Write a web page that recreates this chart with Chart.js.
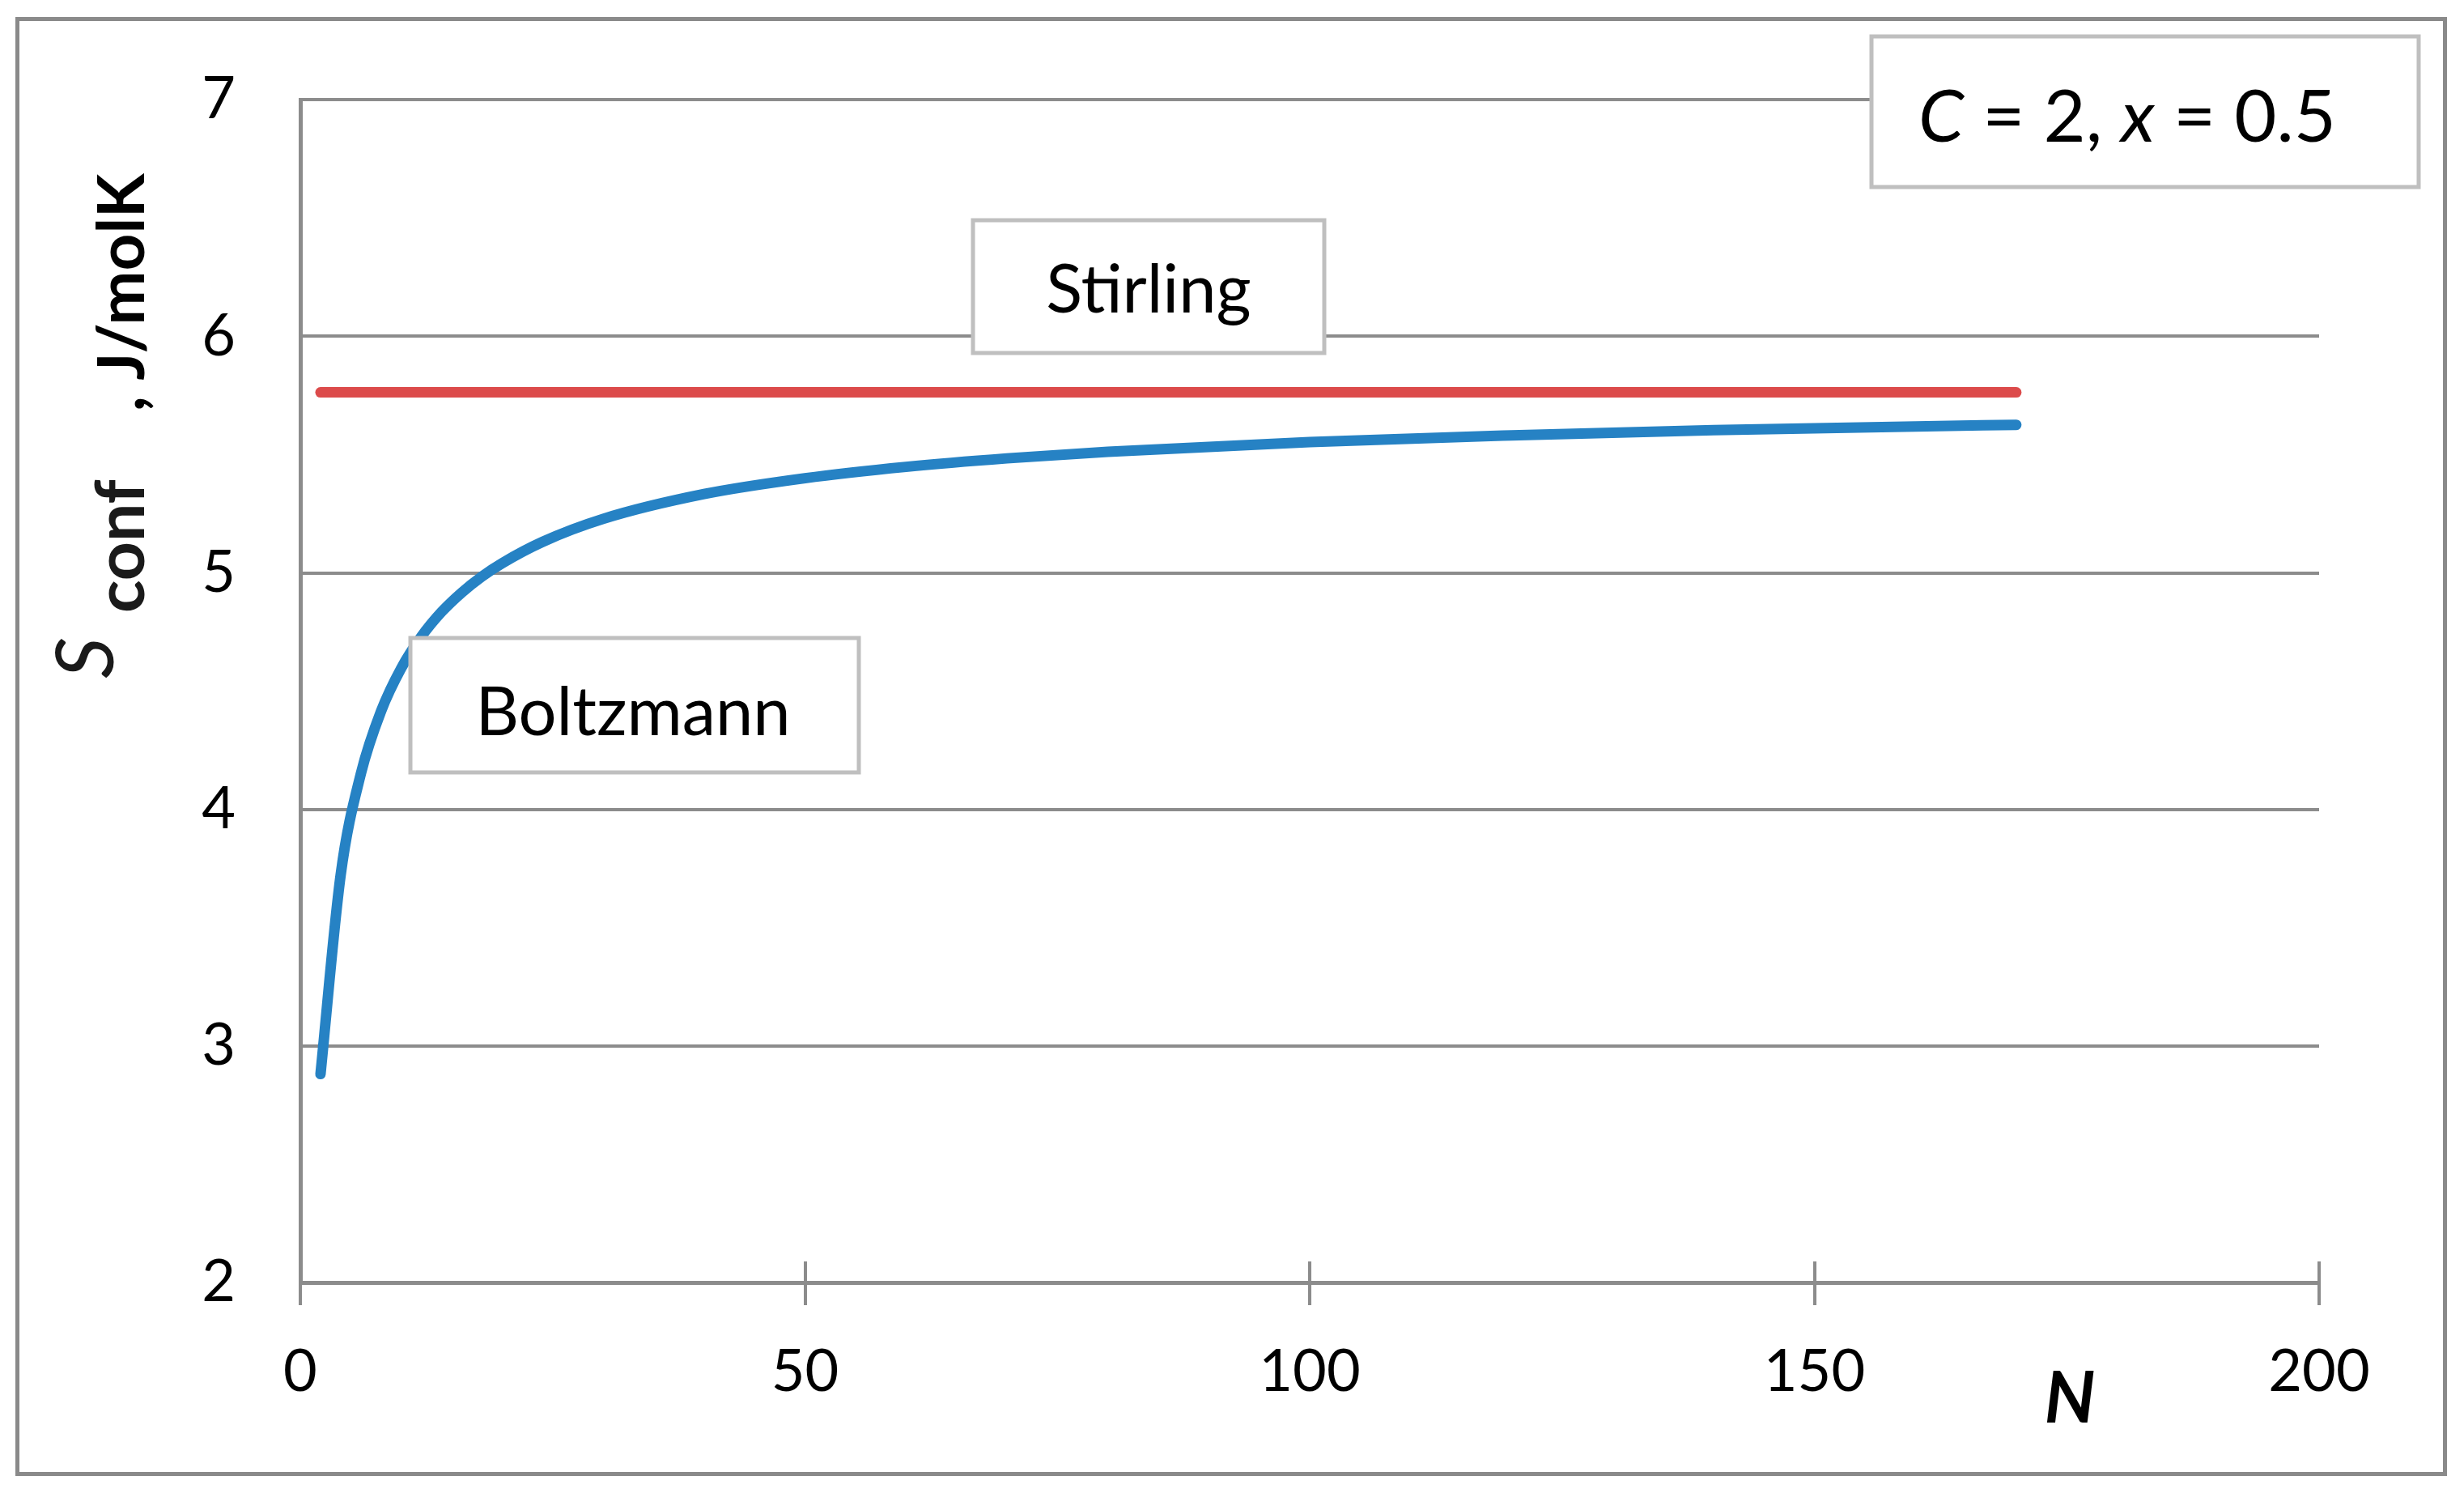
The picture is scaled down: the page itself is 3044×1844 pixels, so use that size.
<!DOCTYPE html>
<html>
<head>
<meta charset="utf-8">
<script src="https://cdn.jsdelivr.net/npm/chart.js@4"></script>
<style>
  html, body { margin: 0; padding: 0; background: #ffffff; }
  #wrap { position: relative; width: 3044px; height: 1844px; }
</style>
</head>
<body>
<div id="wrap"><canvas id="c"></canvas></div>
<script>
// ---- data ----
const boltzmannN = [2, 4, 6, 8, 10, 12, 14, 16, 18, 20, 24, 30, 40, 50, 60, 70, 80, 100, 120, 140, 160, 170];
const boltzmannS = [2.881, 3.724, 4.151, 4.415, 4.597, 4.731, 4.835, 4.917, 4.985, 5.041, 5.131, 5.228, 5.333, 5.400, 5.448, 5.484, 5.512, 5.553, 5.581, 5.603, 5.619, 5.626];
const stirlingN = [2, 170];
const stirlingS = [5.763, 5.763];
const xTicks = [0, 50, 100, 150, 200];
const yTicks = [2, 3, 4, 5, 6, 7];
const labelStirling = 'Stirling';
const labelBoltzmann = 'Boltzmann';
const paramParts = [['C', true], [' = 2, ', false], ['x', true], [' = 0.5', false]];
const xTitle = 'N';
const yTitleMain = 'S';
const yTitleSub = 'conf';
const yTitleUnit = ', J/molK';

const FONT = 'Lato, "Open Sans", "DejaVu Sans", sans-serif';
const GRID = '#8c8c8c';

const toPts = (xs, ys) => xs.map((x, i) => ({ x: x, y: ys[i] }));

const decor = {
  id: 'decor',
  beforeDraw(chart) {
    const ctx = chart.ctx;
    ctx.save();
    ctx.fillStyle = '#ffffff';
    ctx.fillRect(0, 0, chart.width, chart.height);
    ctx.strokeStyle = '#8a8a8a';
    ctx.lineWidth = 5;
    ctx.strokeRect(21.5, 23.5, 2999, 1797);
    ctx.restore();
  },
  afterDraw(chart) {
    const ctx = chart.ctx;
    const xs = chart.scales.x, ys = chart.scales.y;
    ctx.save();
    // inner halves of x tick marks
    ctx.strokeStyle = GRID;
    ctx.lineWidth = 4;
    xTicks.forEach(v => {
      const px = Math.round(xs.getPixelForValue(v));
      ctx.beginPath();
      ctx.moveTo(px, ys.bottom);
      ctx.lineTo(px, ys.bottom - 26);
      ctx.stroke();
    });
    // boxes
    const box = (x0, y0, x1, y1) => {
      ctx.fillStyle = '#ffffff';
      ctx.fillRect(x0, y0, x1 - x0, y1 - y0);
      ctx.strokeStyle = '#bfbfbf';
      ctx.lineWidth = 5;
      ctx.strokeRect(x0, y0, x1 - x0, y1 - y0);
    };
    box(1202, 272, 1636, 436);
    ctx.fillStyle = '#000';
    ctx.font = '83px ' + FONT;
    ctx.textAlign = 'center';
    ctx.textBaseline = 'alphabetic';
    ctx.fillText(labelStirling, 1419, 386);

    box(507, 788, 1061, 954);
    ctx.fillStyle = '#000';
    ctx.font = '83px ' + FONT;
    ctx.textAlign = 'center';
    ctx.fillText(labelBoltzmann, 782, 908);

    box(2312, 45, 2988, 231);
    ctx.textAlign = 'left';
    let x = 2370;
    paramParts.forEach(([t, it]) => {
      ctx.font = (it ? 'italic ' : '') + '90px ' + FONT;
      ctx.fillStyle = '#000';
      ctx.fillText(t, x, 175);
      x += ctx.measureText(t).width;
    });

    // x title
    ctx.font = 'italic bold 88px ' + FONT;
    ctx.textAlign = 'center';
    ctx.fillText(xTitle, 2557, 1757);

    // y title (rotated)
    const rot = (text, font, bx, by, color) => {
      ctx.save();
      ctx.translate(bx, by);
      ctx.rotate(-Math.PI / 2);
      ctx.font = font;
      ctx.fillStyle = color;
      ctx.textAlign = 'left';
      ctx.textBaseline = 'alphabetic';
      ctx.fillText(text, 0, 0);
      ctx.restore();
    };
    rot(yTitleMain, 'italic 100px ' + FONT, 140, 838, '#1a1a1a');
    rot(yTitleSub, 'bold 84px ' + FONT, 178, 757, '#1a1a1a');
    rot(yTitleUnit, 'bold 80px ' + FONT, 178, 508, '#000');
    ctx.restore();
  }
};

new Chart(document.getElementById('c'), {
  type: 'scatter',
  data: {
    datasets: [
      {
        label: labelStirling,
        data: toPts(stirlingN, stirlingS),
        showLine: true,
        borderColor: '#DC4B4B',
        backgroundColor: '#DC4B4B',
        borderWidth: 13,
        borderCapStyle: 'round',
        pointRadius: 0,
        order: 2
      },
      {
        label: labelBoltzmann,
        data: toPts(boltzmannN, boltzmannS),
        showLine: true,
        borderColor: '#2682C4',
        backgroundColor: '#2682C4',
        borderWidth: 13,
        borderCapStyle: 'round',
        borderJoinStyle: 'round',
        cubicInterpolationMode: 'monotone',
        pointRadius: 0,
        order: 1
      }
    ]
  },
  options: {
    responsive: true,
    maintainAspectRatio: false,
    animation: false,
    devicePixelRatio: 1,
    layout: { padding: { left: 0, right: 179, top: 109, bottom: 0 } },
    plugins: { legend: { display: false }, tooltip: { enabled: false } },
    scales: {
      x: {
        type: 'linear',
        min: 0, max: 200,
        afterBuildTicks: s => { s.ticks = xTicks.map(v => ({ value: v })); },
        afterFit: s => { s.height = 260; },
        grid: { display: true, drawOnChartArea: false, drawTicks: true, tickLength: 28, color: GRID, lineWidth: 4 },
        border: { display: true, color: GRID, width: 5 },
        ticks: { color: '#000', font: { family: FONT, size: 72 }, padding: 40, maxRotation: 0 }
      },
      y: {
        type: 'linear',
        min: 2, max: 7,
        afterBuildTicks: s => { s.ticks = yTicks.map(v => ({ value: v })); },
        afterFit: s => { s.width = 371; },
        grid: { color: GRID, lineWidth: 4, drawTicks: false },
        border: { display: true, color: GRID, width: 5 },
        ticks: { color: '#000', font: { family: FONT, size: 72 }, padding: 80 }
      }
    }
  },
  plugins: [decor]
});
</script>
</body>
</html>
